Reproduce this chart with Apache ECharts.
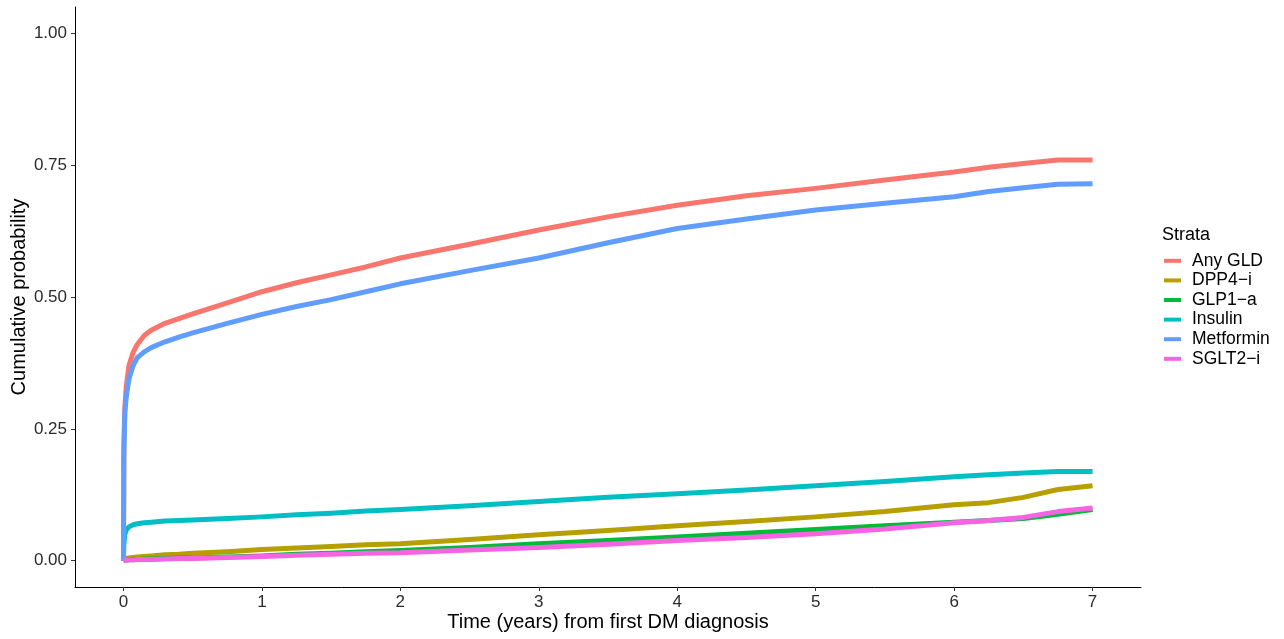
<!DOCTYPE html>
<html>
<head>
<meta charset="utf-8">
<script src="https://cdn.jsdelivr.net/npm/echarts@6/dist/echarts.min.js"></script>
<style>
  html, body { margin: 0; padding: 0; background: #fff; }
  #chart { width: 1284px; height: 639px; }
</style>
</head>
<body>
<div id="chart"></div>
<script>
// Follow-up times (years) shared by all strata
const times = [0, 0.003, 0.01, 0.02, 0.04, 0.07, 0.1, 0.15, 0.2, 0.3, 0.4, 0.5, 0.75, 1,
  1.25, 1.5, 1.75, 2, 2.5, 3, 3.5, 4, 4.5, 5, 5.5, 6, 6.25, 6.5, 6.75, 7];

// Cumulative probability per stratum
const anyGLD = [0, 0.22, 0.29, 0.33, 0.37, 0.395, 0.41, 0.427, 0.437, 0.45, 0.459, 0.468, 0.489, 0.51,
  0.527, 0.542, 0.557, 0.574, 0.60, 0.627, 0.652, 0.674, 0.692, 0.706, 0.722, 0.737, 0.746, 0.753, 0.76, 0.76];
const dpp4 = [0, 0.002, 0.003, 0.004, 0.005, 0.006, 0.007, 0.008, 0.009, 0.011, 0.012, 0.014, 0.017, 0.021,
  0.024, 0.027, 0.03, 0.032, 0.04, 0.049, 0.057, 0.066, 0.074, 0.083, 0.093, 0.106, 0.11, 0.12, 0.135, 0.142];
const glp1 = [0, 0.001, 0.001, 0.001, 0.002, 0.002, 0.002, 0.003, 0.003, 0.004, 0.005, 0.005, 0.007, 0.009,
  0.012, 0.014, 0.017, 0.019, 0.025, 0.032, 0.038, 0.045, 0.052, 0.059, 0.066, 0.073, 0.076, 0.08, 0.088, 0.097];
const insulin = [0, 0.03, 0.05, 0.058, 0.064, 0.068, 0.07, 0.072, 0.073, 0.075, 0.076, 0.077, 0.08, 0.083,
  0.087, 0.09, 0.094, 0.097, 0.104, 0.112, 0.12, 0.127, 0.134, 0.142, 0.15, 0.159, 0.163, 0.166, 0.169, 0.169];
const metformin = [0, 0.2, 0.28, 0.31, 0.345, 0.37, 0.385, 0.396, 0.404, 0.415, 0.424, 0.432, 0.45, 0.467,
  0.482, 0.495, 0.51, 0.525, 0.55, 0.574, 0.603, 0.63, 0.648, 0.665, 0.678, 0.69, 0.70, 0.707, 0.714, 0.715];
const sglt2 = [0, 0, 0, 0.001, 0.001, 0.001, 0.002, 0.002, 0.002, 0.003, 0.004, 0.004, 0.006, 0.008,
  0.01, 0.012, 0.014, 0.015, 0.02, 0.025, 0.031, 0.038, 0.044, 0.051, 0.06, 0.072, 0.076, 0.082, 0.093, 0.1];

const strataNames = ['Any GLD', 'DPP4\u2212i', 'GLP1\u2212a', 'Insulin', 'Metformin', 'SGLT2\u2212i'];
const strataValues = [anyGLD, dpp4, glp1, insulin, metformin, sglt2];
const strataColors = ['#F8766D', '#B79F00', '#00BA38', '#00BFC4', '#619CFF', '#F564E3'];

const xTicks = [0, 1, 2, 3, 4, 5, 6, 7];
const yTicks = [0, 0.25, 0.5, 0.75, 1];

const font = 'Liberation Sans, Arial, Helvetica, sans-serif';

const chart = echarts.init(document.getElementById('chart'), null, { renderer: 'canvas' });

chart.setOption({
  animation: false,
  backgroundColor: '#fff',
  color: strataColors,
  title: {
    text: 'Strata',
    left: 1162,
    top: 226,
    padding: 0,
    textStyle: { fontFamily: font, fontSize: 18, fontWeight: 'normal', color: '#000' }
  },
  legend: {
    orient: 'vertical',
    left: 1164,
    top: 251,
    padding: 0,
    itemGap: 0,
    itemWidth: 17,
    itemHeight: 4,
    icon: 'rect',
    selectedMode: false,
    textStyle: { fontFamily: font, fontSize: 17.5, color: '#000', lineHeight: 19.6, padding: [0, 0, 0, 6] },
    data: strataNames
  },
  grid: { left: 75, right: 143, top: 7, bottom: 52, containLabel: false, outerBoundsMode: 'none' },
  xAxis: {
    type: 'value',
    min: -0.35,
    max: 7.35,
    name: 'Time (years) from first DM diagnosis',
    nameLocation: 'middle',
    nameGap: 25,
    nameMoveOverlap: false,
    nameTextStyle: { fontFamily: font, fontSize: 20, color: '#000' },
    axisLine: { show: true, onZero: false, lineStyle: { color: '#000', width: 1 } },
    axisTick: { show: true, length: 4, customValues: xTicks, lineStyle: { color: '#333' } },
    axisLabel: { margin: 7, customValues: xTicks, fontFamily: font, fontSize: 17, color: '#2b2b2b' },
    splitLine: { show: false }
  },
  yAxis: {
    type: 'value',
    min: -0.05,
    max: 1.05,
    name: 'Cumulative probability',
    nameLocation: 'middle',
    nameGap: 46,
    nameMoveOverlap: false,
    nameTextStyle: { fontFamily: font, fontSize: 20, color: '#000' },
    axisLine: { show: true, onZero: false, lineStyle: { color: '#000', width: 1 } },
    axisTick: { show: true, length: 4, customValues: yTicks, lineStyle: { color: '#333' } },
    axisLabel: {
      margin: 8, customValues: yTicks, fontFamily: font, fontSize: 17, color: '#2b2b2b',
      formatter: v => v.toFixed(2)
    },
    splitLine: { show: false }
  },
  series: strataNames.map((name, i) => ({
    name,
    type: 'line',
    showSymbol: false,
    smooth: false,
    lineStyle: { width: 5, color: strataColors[i], cap: 'butt', join: 'round' },
    itemStyle: { color: strataColors[i] },
    data: times.map((t, j) => [t, strataValues[i][j]])
  }))
});
</script>
</body>
</html>
